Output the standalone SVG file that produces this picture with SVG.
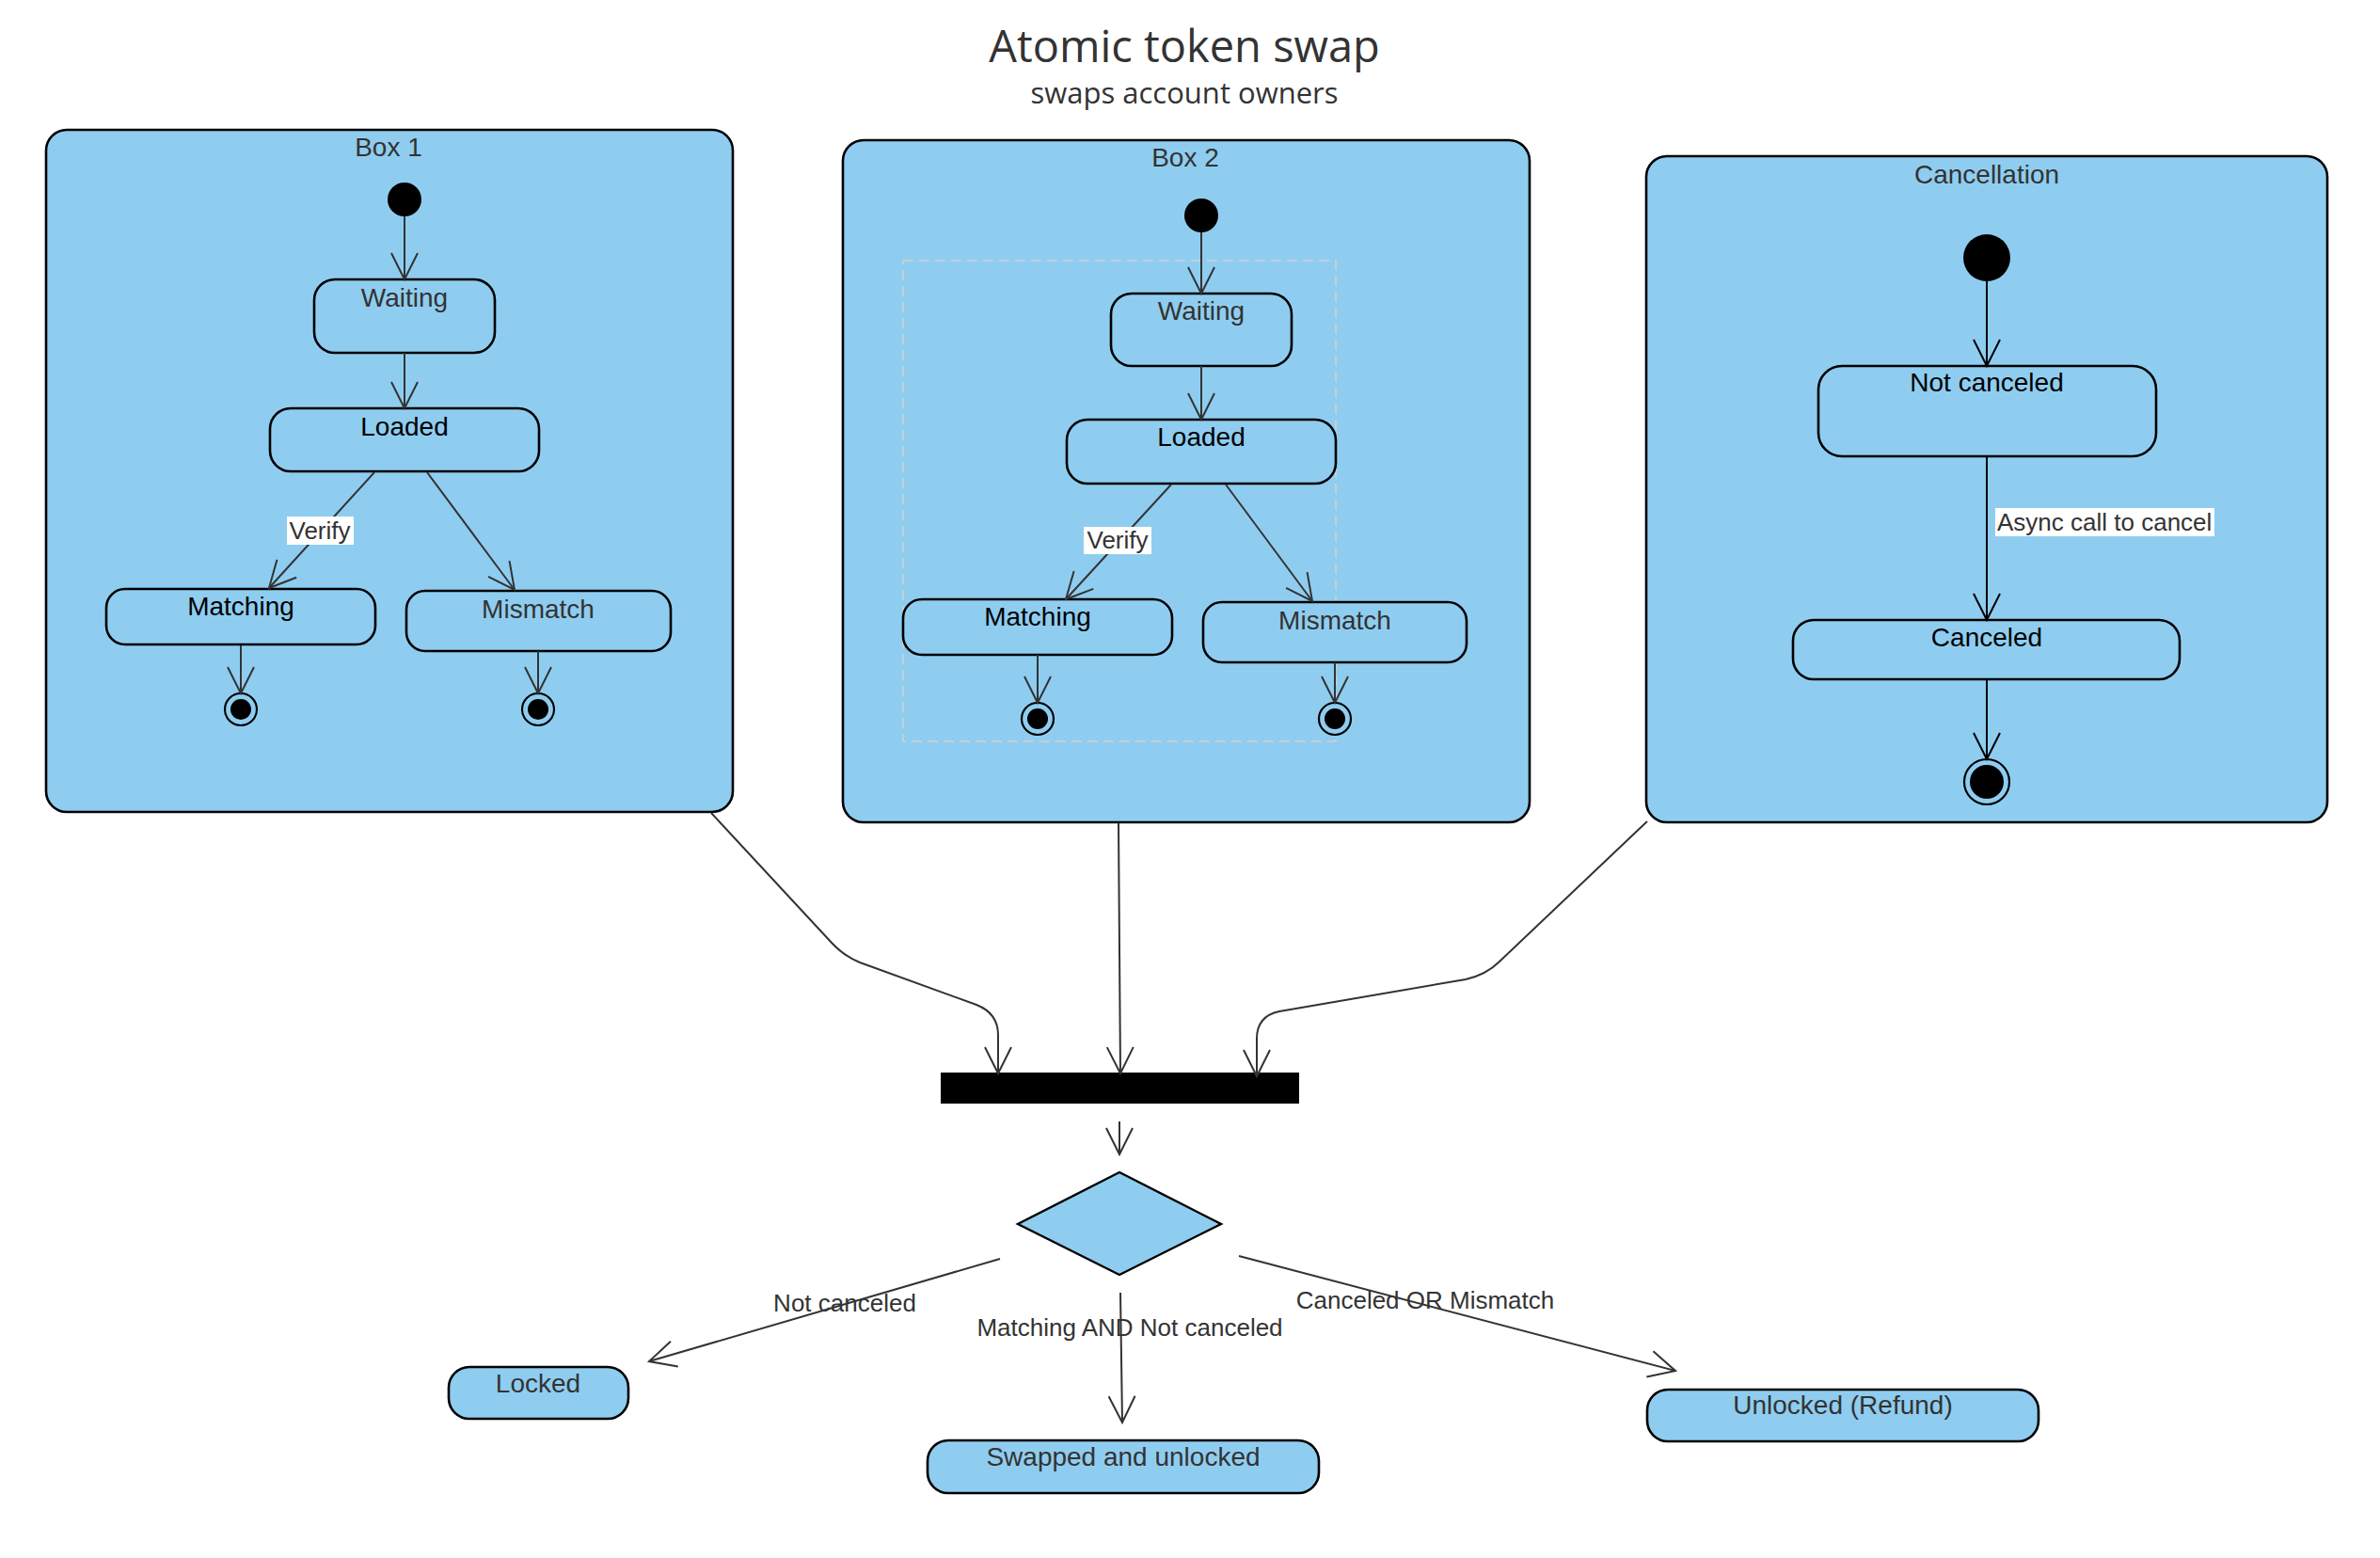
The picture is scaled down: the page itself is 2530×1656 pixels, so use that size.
<svg xmlns="http://www.w3.org/2000/svg" width="2530" height="1656" viewBox="0 0 2530 1656">
<style>
.box{fill:#8fcdf0;stroke:#000;stroke-width:2.6}
.node{fill:#8fcdf0;stroke:#000;stroke-width:2.6}
.init{fill:#000}
.fo{fill:#8fcdf0;stroke:#000;stroke-width:2.2}
.fi{fill:#000}
.t{font-family:"Liberation Sans",Arial,sans-serif;font-size:28px;text-anchor:middle}
.g{fill:#333}
.k{fill:#000}
.lbl{font-family:"Liberation Sans",Arial,sans-serif;font-size:26px;fill:#333}
.e{fill:none;stroke:#333;stroke-width:2}
.eb{fill:none;stroke:#000;stroke-width:2}
.lb{fill:#fff}
</style>
<defs>
<marker id="ag" viewBox="-31 -16 33 32" refX="0" refY="0" markerWidth="33" markerHeight="32" markerUnits="userSpaceOnUse" orient="auto"><path d="M-28,-14 L0,0 L-28,14" fill="none" stroke="#333" stroke-width="2"/></marker>
<marker id="ak" viewBox="-31 -16 33 32" refX="0" refY="0" markerWidth="33" markerHeight="32" markerUnits="userSpaceOnUse" orient="auto"><path d="M-28,-14 L0,0 L-28,14" fill="none" stroke="#000" stroke-width="2"/></marker>
</defs>
<rect width="2530" height="1656" fill="#fff"/>

<g id="title">
<text x="1259" y="66" style="font-family:'Open Sans','Noto Sans',sans-serif;font-size:47px;fill:#333;text-anchor:middle">Atomic token swap</text>
<text x="1259" y="110" style="font-family:'Open Sans','Noto Sans',sans-serif;font-size:31px;fill:#333;text-anchor:middle">swaps account owners</text>
</g>

<g id="box1">
<rect class="box" x="49" y="138" width="730" height="725" rx="22"/>
<text class="t g" x="413" y="166">Box 1</text>
</g>
<g id="box2">
<rect class="box" x="896" y="149" width="730" height="725" rx="22"/>
<text class="t g" x="1260" y="177">Box 2</text>
<rect x="960" y="277" width="460" height="511" fill="none" stroke="#d0d0d0" stroke-width="1.6" stroke-dasharray="11,6"/>
</g>
<g id="cancellation">
<rect class="box" x="1750" y="166" width="724" height="708" rx="22"/>
<text class="t g" x="2112" y="195">Cancellation</text>
</g>

<g id="b1-init"><circle class="init" cx="430" cy="212" r="18"/></g>
<g id="b1-waiting"><rect class="node" x="334" y="297" width="192" height="78" rx="22"/><text class="t g" x="430" y="326">Waiting</text></g>
<g id="b1-loaded"><rect class="node" x="287" y="434" width="286" height="67" rx="22"/><text class="t k" x="430" y="463">Loaded</text></g>
<g id="b1-matching"><rect class="node" x="113" y="626" width="286" height="59" rx="20"/><text class="t k" x="256" y="654">Matching</text></g>
<g id="b1-mismatch"><rect class="node" x="432" y="628" width="281" height="64" rx="20"/><text class="t g" x="572" y="657">Mismatch</text></g>
<g id="b1-final1"><circle class="fo" cx="256" cy="754" r="17"/><circle class="fi" cx="256" cy="754" r="11"/></g>
<g id="b1-final2"><circle class="fo" cx="572" cy="754" r="17"/><circle class="fi" cx="572" cy="754" r="11"/></g>

<g id="b2-init"><circle class="init" cx="1277" cy="229" r="18"/></g>
<g id="b2-waiting"><rect class="node" x="1181" y="312" width="192" height="77" rx="22"/><text class="t g" x="1277" y="340">Waiting</text></g>
<g id="b2-loaded"><rect class="node" x="1134" y="446" width="286" height="68" rx="22"/><text class="t k" x="1277" y="474">Loaded</text></g>
<g id="b2-matching"><rect class="node" x="960" y="637" width="286" height="59" rx="20"/><text class="t k" x="1103" y="665">Matching</text></g>
<g id="b2-mismatch"><rect class="node" x="1279" y="640" width="280" height="64" rx="20"/><text class="t g" x="1419" y="669">Mismatch</text></g>
<g id="b2-final1"><circle class="fo" cx="1103" cy="764" r="17"/><circle class="fi" cx="1103" cy="764" r="11"/></g>
<g id="b2-final2"><circle class="fo" cx="1419" cy="764" r="17"/><circle class="fi" cx="1419" cy="764" r="11"/></g>

<g id="c-init"><circle class="init" cx="2112" cy="274" r="25"/></g>
<g id="c-notcanceled"><rect class="node" x="1933" y="389" width="359" height="96" rx="25"/><text class="t k" x="2112" y="416">Not canceled</text></g>
<g id="c-canceled"><rect class="node" x="1906" y="659" width="411" height="63" rx="22"/><text class="t k" x="2112" y="687">Canceled</text></g>
<g id="c-final"><circle class="fo" cx="2112" cy="831" r="24"/><circle class="fi" cx="2112" cy="831" r="18"/></g>

<g id="join"><rect x="1000" y="1140" width="381" height="33" fill="#000"/></g>
<g id="decision"><path d="M1190,1246 L1298,1301 L1190,1355 L1082,1301 Z" fill="#8fcdf0" stroke="#000" stroke-width="2.4"/></g>

<g id="locked"><rect class="node" x="477" y="1453" width="191" height="55" rx="22"/><text class="t g" x="572" y="1480">Locked</text></g>
<g id="swapped"><rect class="node" x="986" y="1531" width="416" height="56" rx="22"/><text class="t g" x="1194" y="1558">Swapped and unlocked</text></g>
<g id="unlocked"><rect class="node" x="1751" y="1477" width="416" height="55" rx="22"/><text class="t g" x="1959" y="1503">Unlocked (Refund)</text></g>

<g id="connectors">
<path class="e" d="M430,230 L430,297" marker-end="url(#ag)"/>
<path class="e" d="M430,375 L430,434" marker-end="url(#ag)"/>
<path class="e" d="M398,502 L286,625" marker-end="url(#ag)"/>
<path class="e" d="M454,502 L547,627" marker-end="url(#ag)"/>
<path class="e" d="M256,686 L256,737" marker-end="url(#ag)"/>
<path class="e" d="M572,692 L572,737" marker-end="url(#ag)"/>
<rect class="lb" x="305" y="549" width="71" height="30"/>
<text class="lbl" x="340" y="573" text-anchor="middle">Verify</text>

<path class="e" d="M1277,247 L1277,312" marker-end="url(#ag)"/>
<path class="e" d="M1277,389 L1277,446" marker-end="url(#ag)"/>
<path class="e" d="M1245,515 L1133,637" marker-end="url(#ag)"/>
<path class="e" d="M1303,515 L1395,639" marker-end="url(#ag)"/>
<path class="e" d="M1103,696 L1103,747" marker-end="url(#ag)"/>
<path class="e" d="M1419,704 L1419,747" marker-end="url(#ag)"/>
<rect class="lb" x="1152" y="560" width="72" height="29"/>
<text class="lbl" x="1188" y="583" text-anchor="middle">Verify</text>

<path class="eb" d="M2112,299 L2112,389" marker-end="url(#ak)"/>
<path class="eb" d="M2112,485 L2112,659" marker-end="url(#ak)"/>
<path class="eb" d="M2112,722 L2112,807" marker-end="url(#ak)"/>
<rect class="lb" x="2121" y="540" width="233" height="30"/>
<text class="lbl" x="2123" y="564">Async call to cancel</text>

<path class="e" d="M756,864 L884,1002 Q897,1016 914,1023 L1038,1068 Q1061,1077 1061,1100 L1061,1141" marker-end="url(#ag)"/>
<path class="e" d="M1189,875 L1191,1141" marker-end="url(#ag)"/>
<path class="e" d="M1751,873 L1594,1022 Q1580,1036 1558,1041 L1360,1075 Q1336,1080 1336,1104 L1336,1144" marker-end="url(#ag)"/>
<path class="e" d="M1190,1192 L1190,1227" marker-end="url(#ag)"/>

<path class="e" d="M1063,1338 L690,1447" marker-end="url(#ag)"/>
<path class="e" d="M1191,1374 L1193,1512" marker-end="url(#ag)"/>
<path class="e" d="M1317,1335 L1781,1457" marker-end="url(#ag)"/>
<text class="lbl" x="898" y="1394" text-anchor="middle">Not canceled</text>
<text class="lbl" x="1201" y="1420" text-anchor="middle">Matching AND Not canceled</text>
<text class="lbl" x="1515" y="1391" text-anchor="middle">Canceled OR Mismatch</text>
</g>
</svg>
